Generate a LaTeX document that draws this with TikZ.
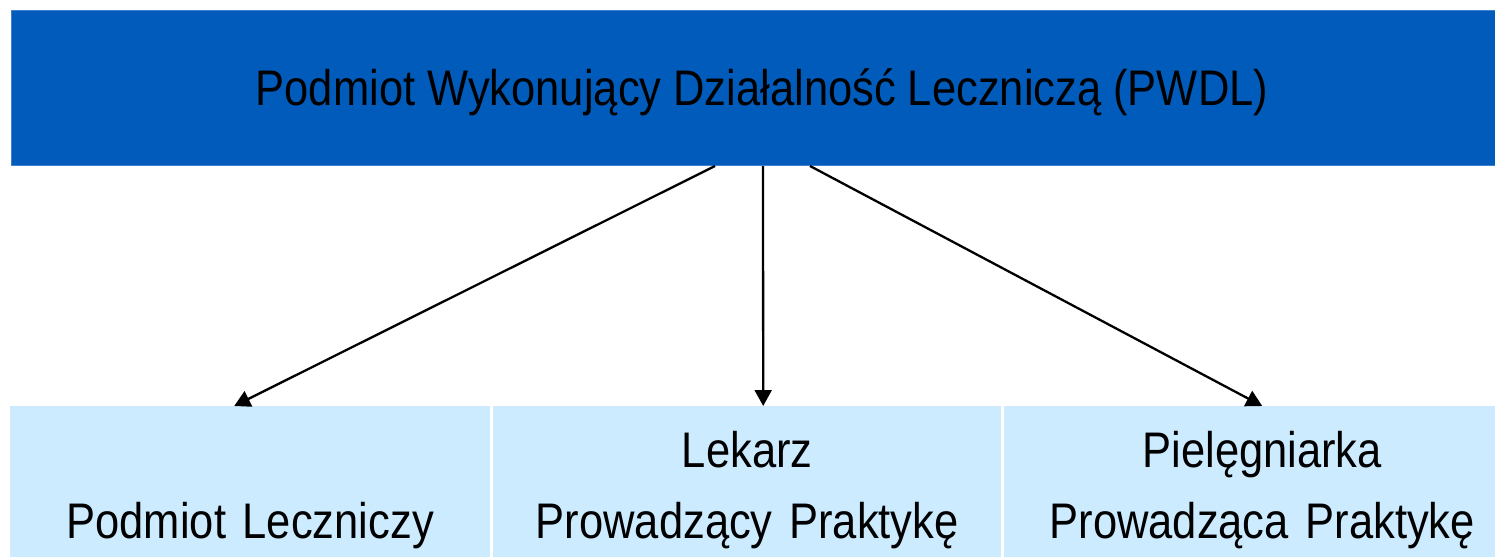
\documentclass[tikz,border=0pt]{standalone}
\usepackage{fontspec}
\setmainfont[FakeStretch=0.87]{Liberation Sans}
\usetikzlibrary{calc,arrows.meta}
\definecolor{pwdlblue}{RGB}{0,91,186}
\definecolor{pwdledge}{RGB}{60,130,205}
\definecolor{kindblue}{RGB}{204,235,255}
\tikzstyle{head} = [fill=pwdlblue, draw=pwdledge, line width=1pt, inner sep=0pt, minimum width=1502pt, minimum height=155pt, text height=35pt, text depth=0pt, font={\fontsize{50}{71}\selectfont}]
\tikzstyle{kind} = [fill=kindblue, anchor=north west, inner sep=0pt, align=center, text height=61pt, text depth=90pt, font={\fontsize{50}{71}\selectfont}]
\tikzstyle{oneline} = [text height=132pt, text depth=19pt]
\tikzstyle{link} = [-{Triangle[length=16pt,width=17pt]}, line width=2.3pt]

\begin{document}
\begin{tikzpicture}[x=1pt,y=-1pt]
    \useasboundingbox (0,0) rectangle (1495,557);
    \node[head](pwdl) at (762,88){Podmiot Wykonujący Działalność Leczniczą (PWDL)};
    \node[kind,oneline,text width=480pt](pl) at (10,406){Podmiot Leczniczy};
    \node[kind,text width=508pt](lpp) at (493,406){Lekarz\\Prowadzący Praktykę};
    \node[kind,text width=516pt](ppp) at (1004,406){Pielęgniarka\\Prowadząca Praktykę};
    \draw[link]($(pwdl.south)+(-47,0)$)--($(pl.north)+(-16,0)$);
    \draw[link]($(pwdl.south)+(1,0)$)--($(lpp.north)+(16,0)$);
    \draw[link]($(pwdl.south)+(48,0)$)--(ppp.north);
  \end{tikzpicture}
\end{document}
